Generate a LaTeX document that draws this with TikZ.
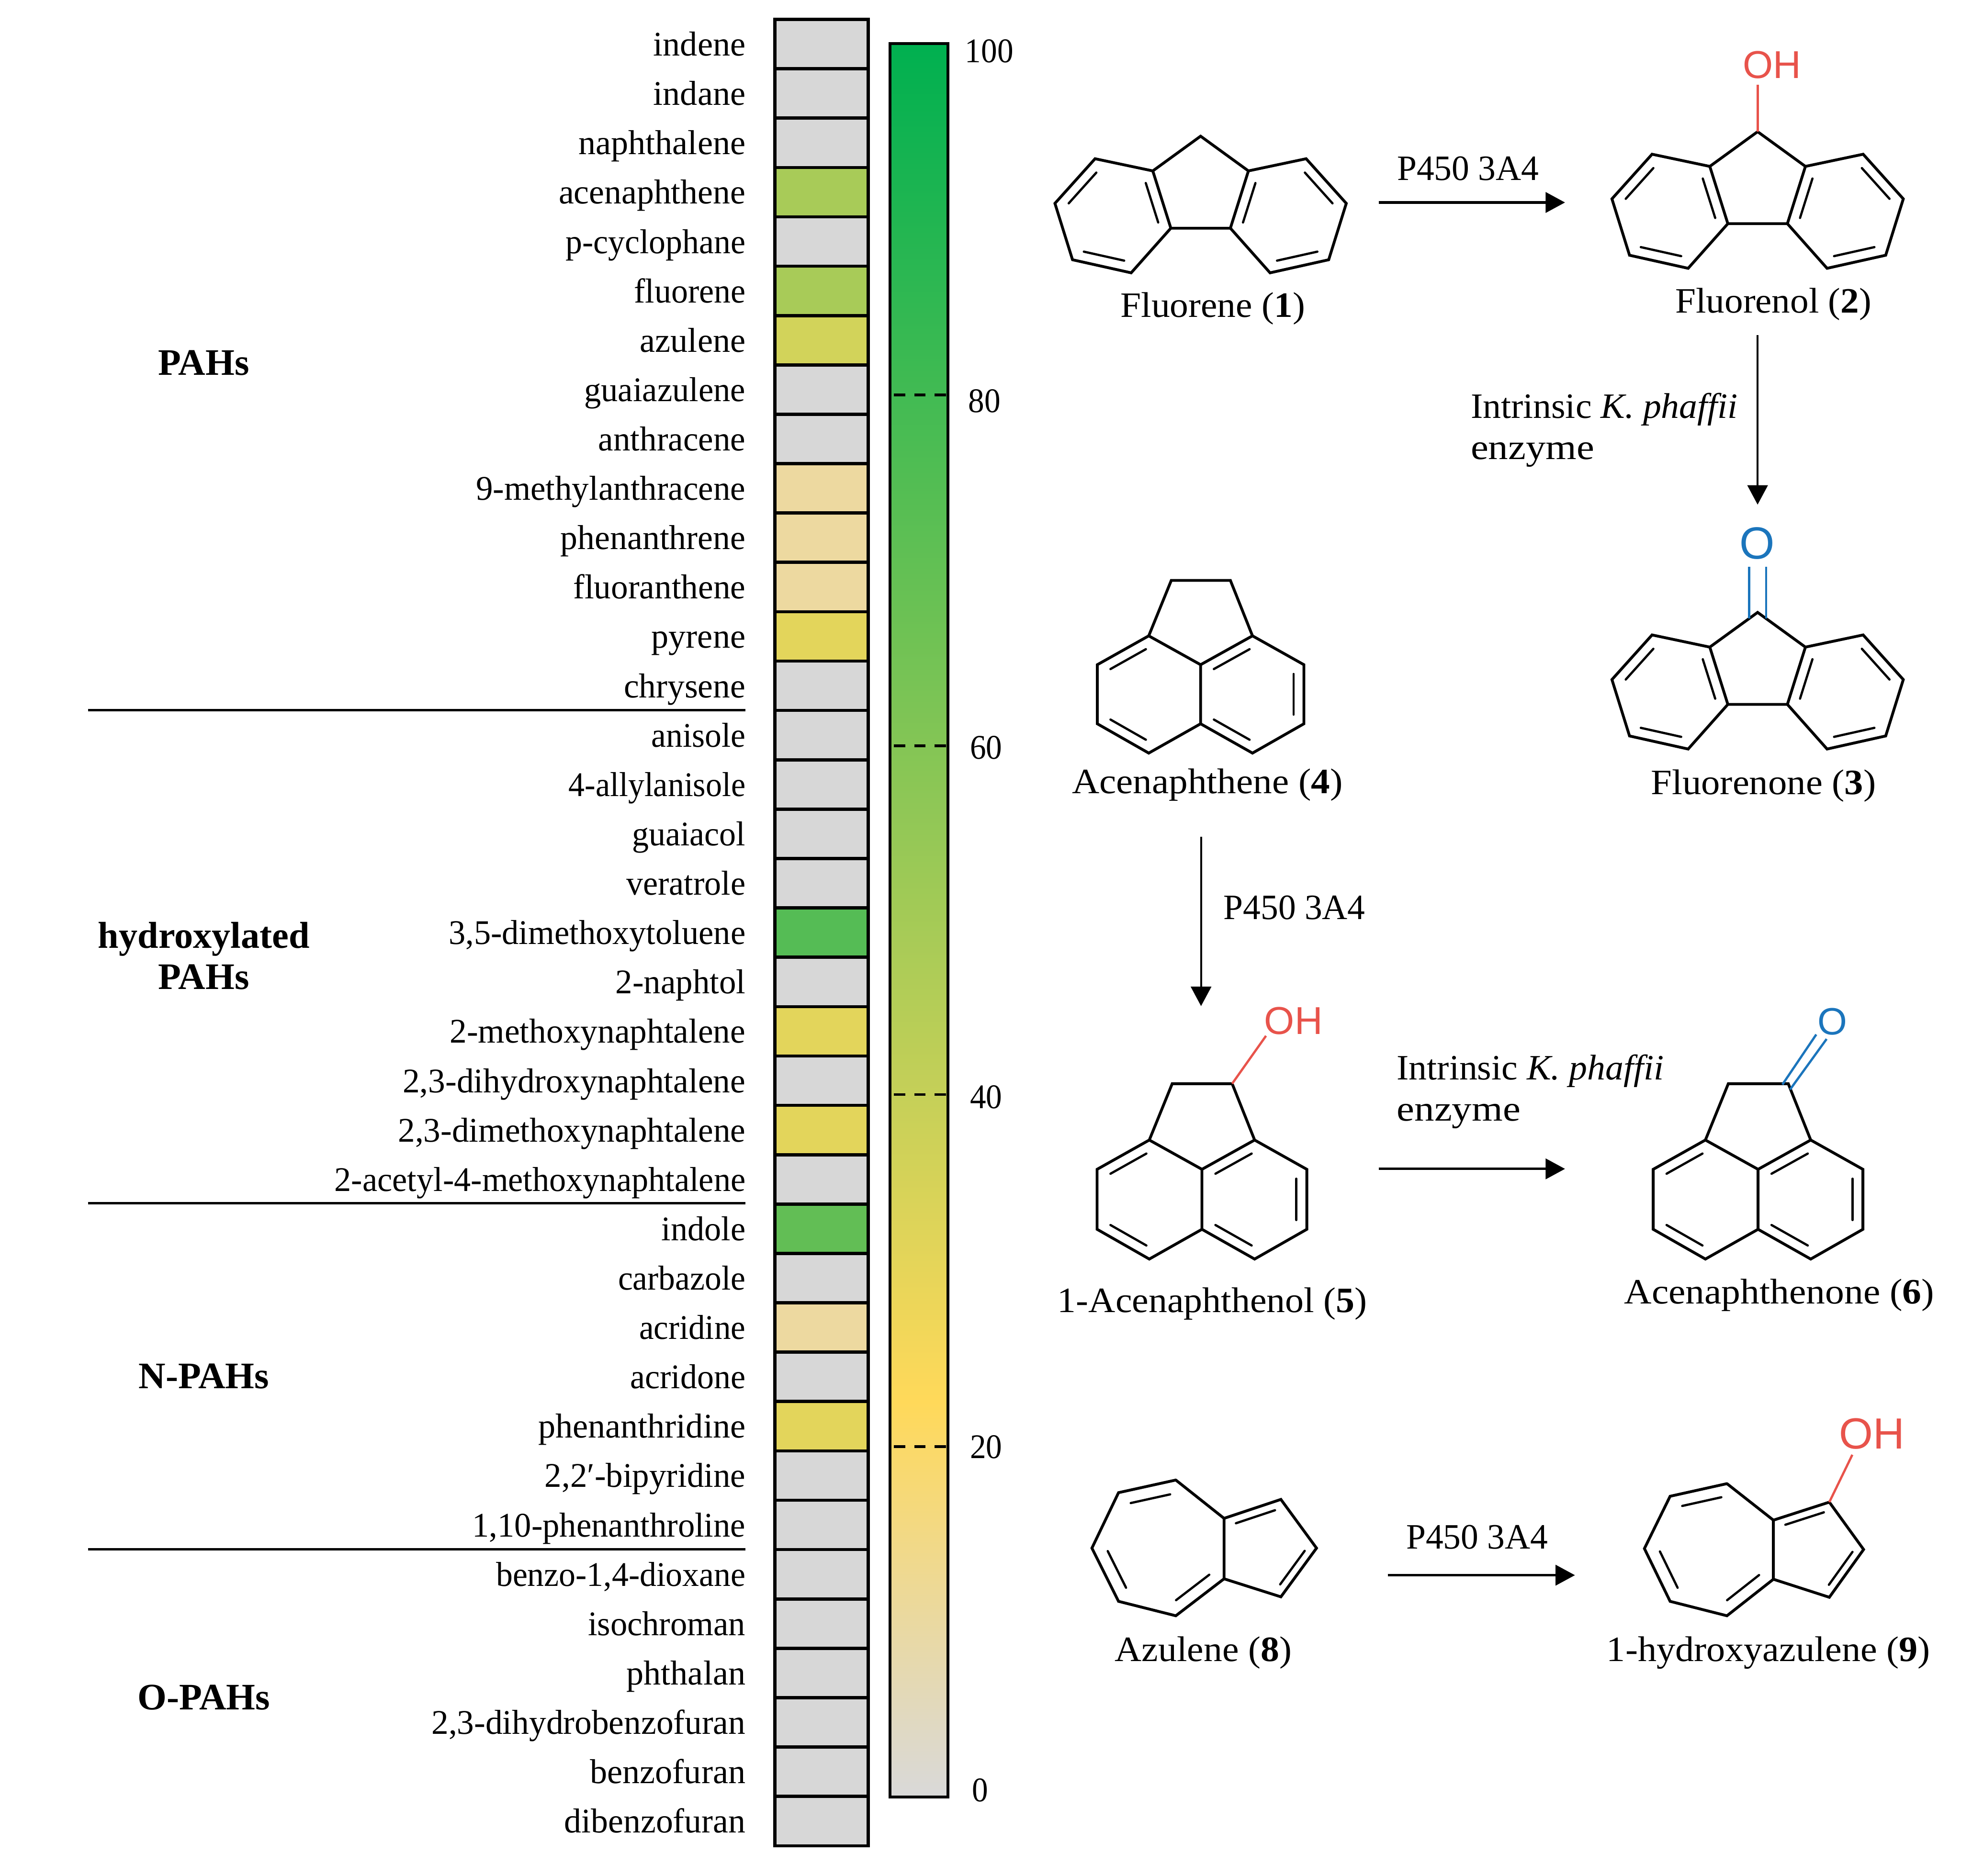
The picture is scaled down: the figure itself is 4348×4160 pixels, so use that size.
\documentclass[tikz,border=0pt]{standalone}
\usepackage{graphicx}
\usepackage{fontspec}
\setmainfont{Liberation Serif}
\newfontfamily\chemfont{Liberation Sans}
\usetikzlibrary{calc,arrows.meta}
\definecolor{cellgray}{HTML}{D7D7D7}
\definecolor{cellA}{HTML}{A8CB58}
\definecolor{cellB}{HTML}{D2D35A}
\definecolor{cellC}{HTML}{EDD9A0}
\definecolor{cellD}{HTML}{E3D55B}
\definecolor{cellE}{HTML}{55BC55}
\definecolor{cellF}{HTML}{62BE55}
\definecolor{barA}{HTML}{D9D9D9}
\definecolor{barB}{HTML}{FFD95A}
\definecolor{barC}{HTML}{00B050}
\definecolor{ohred}{HTML}{E8534B}
\definecolor{oblue}{HTML}{1B75BC}
\tikzset{
  x=0.01cm,y=-0.01cm,
  cell/.style={draw=black,line width=0.07cm,fill=cellgray},
  lab/.style={anchor=base east,inner sep=0,outer sep=0,font=\fontsize{21.8}{26}\selectfont},
  cat/.style={anchor=base,inner sep=0,outer sep=0,align=center,font=\fontsize{23.6}{26}\selectfont\bfseries},
  num/.style={anchor=base west,inner sep=0,outer sep=0,font=\fontsize{21.8}{26}\selectfont},
  txt/.style={anchor=base,inner sep=0,outer sep=0,font=\fontsize{22.5}{26}\selectfont},
  txtl/.style={anchor=base west,inner sep=0,outer sep=0,font=\fontsize{22.5}{26}\selectfont},
  sep/.style={draw=black,line width=0.055cm},
  tick/.style={draw=black,line width=0.06cm,dash pattern=on 0.25cm off 0.2cm},
  rxn/.style={draw=black,line width=0.055cm,-{Triangle[length=0.43cm,width=0.45cm]}},
  rxnv/.style={draw=black,line width=0.04cm,-{Triangle[length=0.43cm,width=0.45cm]}},
  bond/.style={draw=black,line width=0.062cm,line join=miter,line cap=round},
  inbond/.style={draw=black,line width=0.05cm,line cap=round},
  redbond/.style={draw=ohred,line width=0.05cm},
  bluebond/.style={draw=oblue,line width=0.05cm},
  atomtxt/.style={inner sep=0,outer sep=0,font=\chemfont},
}
\newcommand\hs[2]{\scalebox{#1}[1]{#2}}
\newcommand\dbl[3]{\draw[inbond] ($(#1)!.07!(#2)!.2!(#3)$) -- ($(#2)!.07!(#1)!.2!(#3)$);}
\newcommand\Fluorene[2]{%
\begin{scope}[shift={(#1,#2)}]
\coordinate (t) at (0,0);
\coordinate (A) at (-106,77); \coordinate (B) at (106,77);
\coordinate (La) at (-234,50); \coordinate (Lb) at (-323,149);
\coordinate (Lc) at (-284,274); \coordinate (Ld) at (-154,303);
\coordinate (C) at (-66,204); \coordinate (D) at (66,204);
\coordinate (Ra) at (234,50); \coordinate (Rb) at (323,149);
\coordinate (Rc) at (284,274); \coordinate (Rd) at (154,303);
\coordinate (Lm) at (-195,176); \coordinate (Rm) at (195,176);
\draw[bond] (A) -- (t) -- (B) -- (Ra) -- (Rb) -- (Rc) -- (Rd) -- (D) -- (C) -- (Ld) -- (Lc) -- (Lb) -- (La) -- (A) -- (C) (B) -- (D);
\dbl{La}{Lb}{Lm}\dbl{Lc}{Ld}{Lm}\dbl{A}{C}{Lm}
\dbl{Ra}{Rb}{Rm}\dbl{Rc}{Rd}{Rm}\dbl{B}{D}{Rm}
\end{scope}}
\newcommand\Acena[1]{%
\begin{scope}[#1]
\coordinate (TL) at (-65,-187); \coordinate (TR) at (66,-187);
\coordinate (Pa) at (-115,-64); \coordinate (Pb) at (115,-64);
\coordinate (CT) at (0,0); \coordinate (CB) at (0,131);
\coordinate (LT) at (-229,0); \coordinate (RT) at (229,0);
\coordinate (LB) at (-229,131); \coordinate (RB) at (229,131);
\coordinate (Ba) at (-115,196); \coordinate (Bb) at (115,196);
\coordinate (Lm) at (-115,66); \coordinate (Rm) at (115,66);
\draw[bond] (Pa) -- (TL) -- (TR) -- (Pb) -- (RT) -- (RB) -- (Bb) -- (CB) -- (Ba) -- (LB) -- (LT) -- (Pa) -- (CT) -- (Pb) (CT) -- (CB);
\dbl{Pa}{LT}{Lm}\dbl{LB}{Ba}{Lm}
\dbl{Pb}{CT}{Rm}\dbl{RT}{RB}{Rm}\dbl{CB}{Bb}{Rm}
\end{scope}}
\newcommand\AzuBonds{%
\draw[bond] (Za) -- (Zb) -- (Zc) -- (Zd) -- (Ze) -- (Zf) -- (Zg) -- (Za) (Zg) -- (Zh) -- (Zi) -- (Zj) -- (Zf);
\dbl{Za}{Zb}{Zs}\dbl{Zc}{Zd}{Zs}\dbl{Ze}{Zf}{Zs}
\dbl{Zg}{Zh}{Zv}\dbl{Zi}{Zj}{Zv}}
\begin{document}
\begin{tikzpicture}
\useasboundingbox (0,0) rectangle (4348,4160);
\fill[white] (0,0) rectangle (4348,4160);
% heat cells and labels
\def\rowh{109.46}
\foreach \i/\name/\col/\fx in {
0/indene/cellgray/1,1/indane/cellgray/1,2/naphthalene/cellgray/1,3/acenaphthene/cellA/.993,4/p-cyclophane/cellgray/.966,5/fluorene/cellA/.967,6/azulene/cellB/1,7/guaiazulene/cellgray/.977,8/anthracene/cellgray/.983,9/9-methylanthracene/cellC/.982,10/phenanthrene/cellC/.993,11/fluoranthene/cellC/.986,12/pyrene/cellD/1,13/chrysene/cellgray/.99,14/anisole/cellgray/.962,15/4-allylanisole/cellgray/.94,16/guaiacol/cellgray/.968,17/veratrole/cellgray/.97,18/{3,5-dimethoxytoluene}/cellE/.975,19/2-naphtol/cellgray/.981,20/2-methoxynaphtalene/cellD/.9875,21/{2,3-dihydroxynaphtalene}/cellgray/.989,22/{2,3-dimethoxynaphtalene}/cellD/.986,23/2-acetyl-4-methoxynaphtalene/cellgray/.973,24/indole/cellF/.971,25/carbazole/cellgray/.962,26/acridine/cellC/.955,27/acridone/cellgray/.968,28/phenanthridine/cellD/1,29/{2,2′-bipyridine}/cellgray/.982,30/{1,10-phenanthroline}/cellgray/.978,31/{benzo-1,4-dioxane}/cellgray/.966,32/isochroman/cellgray/.977,33/phthalan/cellgray/1,34/{2,3-dihydrobenzofuran}/cellgray/.988,35/benzofuran/cellgray/1,36/dibenzofuran/cellgray/.993}{
  \path[cell,fill=\col] (1718,{43+\i*\rowh}) rectangle (1925,{43+(\i+1)*\rowh});
  \node[lab] (row\i) at (1653,{43+(\i+.5)*\rowh+26}) {\hs{\fx}{\name}};
}
% separators
\coordinate (sepa) at (195,1575); \coordinate (sepb) at (1653,1575);
\coordinate (sepc) at (195,2668); \coordinate (sepd) at (1653,2668);
\coordinate (sepe) at (195,3436); \coordinate (sepf) at (1653,3436);
\draw[sep] (sepa) -- (sepb); \draw[sep] (sepc) -- (sepd); \draw[sep] (sepe) -- (sepf);
% category labels
\node[cat] (catpah) at (452,832) {PAHs};
\node[cat,anchor=north] (cathyd) at (452,2045) {hydroxylated\\PAHs};
\node[cat] (catn) at (452,3079) {N-PAHs};
\node[cat] (cato) at (452,3791) {O-PAHs};
% colour bar
\fill[bottom color=barB,top color=barC] (1973,97) rectangle (2102,3110);
\fill[bottom color=barA,top color=barB] (1973,3109) rectangle (2102,3985);
\draw[line width=0.065cm] (1973,97) rectangle (2102,3985);
\foreach \y/\v/\x in {138/100/2140,914/80/2147,1683/60/2151,2458/40/2151,3234/20/2151,3995/0/2155}{
  \node[num] (num\v) at (\x,\y) {\hs{.93}{\v}};
}
\foreach \y in {876,1654,2427,3208}{
  \coordinate (ticka\y) at (1982,\y); \coordinate (tickb\y) at (2114,\y);
  \draw[tick] (ticka\y) -- (tickb\y);
}
% fluorene series
\Fluorene{2662}{302}
\Fluorene{3897}{292}
\coordinate (cnine) at (3897,292); \coordinate (ohend) at (3897,188);
\draw[redbond] (cnine) -- (ohend);
\node[atomtxt,text=ohred,font=\chemfont\fontsize{24.5}{28}\selectfont] (oha) at (3929,144) {OH};
\Fluorene{3897}{1358}
\coordinate (oaa) at (3878,1257); \coordinate (oab) at (3878,1372);
\coordinate (oac) at (3916,1257); \coordinate (oad) at (3916,1372);
\draw[bluebond] (oaa) -- (oab); \draw[bluebond] (oac) -- (oad);
\node[atomtxt,text=oblue,font=\chemfont\fontsize{28.5}{32}\selectfont] (oxa) at (3896,1205) {O};
\node[txt] (lbla) at (2689,703) {\hs{1.04}{Fluorene (\textbf{1})}};
\node[txt] (lblb) at (3932,694) {\hs{1.035}{Fluorenol (\textbf{2})}};
\node[txt] (lblc) at (3910,1762) {\hs{1.056}{Fluorenone (\textbf{3})}};
\node[txt] (pa) at (3255,400) {\hs{.986}{P450 3A4}};
\coordinate (arra) at (3057,449); \coordinate (arrb) at (3470,449);
\draw[rxn] (arra) -- (arrb);
\coordinate (arrc) at (3897,743); \coordinate (arrd) at (3897,1119);
\draw[rxnv] (arrc) -- (arrd);
\node[txtl] (ina) at (3261,927) {\hs{1.017}{Intrinsic \textit{K. phaffii}}};
\node[txtl] (inb) at (3261,1019) {\hs{1.115}{enzyme}};
% acenaphthene series
\Acena{shift={(2662,1474)}}
\node[txt] (lbld) at (2677,1759) {\hs{1.063}{Acenaphthene (\textbf{4})}};
\coordinate (arre) at (2663,1856); \coordinate (arrf) at (2663,2231);
\draw[rxnv] (arre) -- (arrf);
\node[txt] (pb) at (2870,2039) {\hs{.986}{P450 3A4}};
\Acena{shift={(2665,2593)},scale=1.015}
\coordinate (ohb) at (2732,2403); \coordinate (ohc) at (2807,2297);
\draw[redbond] (ohb) -- (ohc);
\node[atomtxt,text=ohred,font=\chemfont\fontsize{24.5}{28}\selectfont] (ohx) at (2868,2264) {OH};
\node[txt] (lble) at (2688,2910) {\hs{1.045}{1-Acenaphthenol (\textbf{5})}};
\coordinate (arrg) at (3057,2592); \coordinate (arrh) at (3470,2592);
\draw[rxn] (arrg) -- (arrh);
\node[txtl] (inc) at (3097,2394) {\hs{1.017}{Intrinsic \textit{K. phaffii}}};
\node[txtl] (ind) at (3097,2486) {\hs{1.115}{enzyme}};
\Acena{shift={(3898,2593)},scale=1.015}
\coordinate (obaa) at (3952,2405); \coordinate (obab) at (4027,2294);
\coordinate (obac) at (3969,2416); \coordinate (obad) at (4050,2304);
\draw[bluebond] (obaa) -- (obab); \draw[bluebond] (obac) -- (obad);
\node[atomtxt,text=oblue,font=\chemfont\fontsize{24}{28}\selectfont] (oxb) at (4063,2265) {O};
\node[txt] (lblf) at (3945,2891) {\hs{1.068}{Acenaphthenone (\textbf{6})}};
% azulene series
\coordinate (Za) at (2607,3282); \coordinate (Zb) at (2480,3310); \coordinate (Zc) at (2421,3433);
\coordinate (Zd) at (2480,3551); \coordinate (Ze) at (2607,3583); \coordinate (Zf) at (2714,3501);
\coordinate (Zg) at (2714,3367); \coordinate (Zh) at (2840,3325); \coordinate (Zi) at (2919,3433);
\coordinate (Zj) at (2840,3541); \coordinate (Zs) at (2580,3433); \coordinate (Zv) at (2810,3433);
\AzuBonds
\node[txt] (lblg) at (2668,3684) {\hs{1.043}{Azulene (\textbf{8})}};
\coordinate (arri) at (3077,3493); \coordinate (arrj) at (3492,3493);
\draw[rxn] (arri) -- (arrj);
\node[txt] (pc) at (3275,3434) {\hs{.986}{P450 3A4}};
\coordinate (Za) at (3829,3290); \coordinate (Zb) at (3703,3318); \coordinate (Zc) at (3646,3434);
\coordinate (Zd) at (3703,3551); \coordinate (Ze) at (3829,3583); \coordinate (Zf) at (3932,3502);
\coordinate (Zg) at (3932,3371); \coordinate (Zh) at (4056,3331); \coordinate (Zi) at (4132,3436);
\coordinate (Zj) at (4056,3542); \coordinate (Zs) at (3802,3433); \coordinate (Zv) at (4030,3433);
\AzuBonds
\coordinate (ohd) at (4107,3226);
\draw[redbond] (Zh) -- (ohd);
\node[atomtxt,text=ohred,font=\chemfont\fontsize{27.5}{32}\selectfont] (ohy) at (4150,3179) {OH};
\node[txt] (lblh) at (3921,3684) {\hs{1.05}{1-hydroxyazulene (\textbf{9})}};
\end{tikzpicture}
\end{document}
